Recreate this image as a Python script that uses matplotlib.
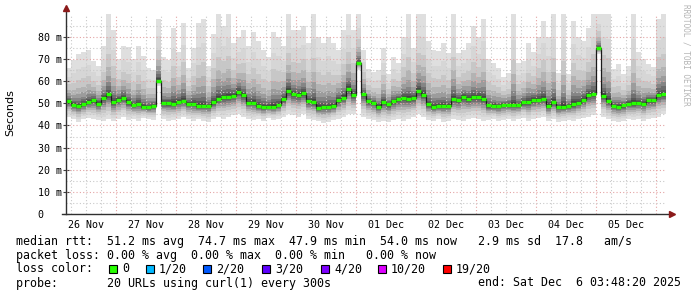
#!/usr/bin/env python3
"""
SmokePing style latency graph (10 days, curl probe)
"""

import numpy as np
import pandas as pd
import matplotlib
matplotlib.use('Agg')
import matplotlib.pyplot as plt
import matplotlib.dates as mdates
from matplotlib.ticker import FuncFormatter
from matplotlib.patches import Rectangle

# --- data, one value per 2 h step (ms) ---
end_time = pd.Timestamp('2025-12-06 03:48:20')
start_time = end_time - pd.Timedelta(days=10)
step_hours = 2

median_ms = [
    51.0, 49.2, 48.9, 49.5, 50.5, 51.3, 49.8, 52.4, 54.0, 50.5,
    51.6, 52.5, 50.5, 49.0, 49.8, 48.4, 48.2, 48.8, 60.2, 50.0,
    50.1, 49.8, 50.6, 51.0, 49.8, 49.8, 48.6, 48.8, 48.8, 50.4,
    52.0, 52.8, 52.8, 53.4, 55.2, 53.5, 50.3, 50.2, 48.8, 48.3,
    48.2, 48.5, 49.0, 51.8, 55.7, 54.0, 53.5, 54.5, 50.8, 50.5,
    48.0, 48.3, 48.3, 48.6, 51.5, 52.5, 56.5, 53.6, 68.0, 54.0,
    51.0, 50.2, 48.5, 50.5, 49.5, 50.8, 51.7, 52.4, 51.8, 52.3,
    55.6, 53.8, 49.5, 48.5, 48.8, 48.8, 48.8, 52.0, 51.4, 53.0,
    52.0, 52.6, 52.8, 52.0, 49.0, 48.8, 48.6, 49.3, 49.4, 49.2,
    49.2, 50.4, 50.6, 51.5, 51.5, 52.0, 48.6, 50.5, 48.2, 48.5,
    48.7, 49.5, 50.2, 51.5, 53.5, 54.0, 74.7, 53.4, 51.0, 48.8,
    48.5, 49.0, 49.8, 50.0, 50.2, 49.8, 51.3, 51.3, 53.5, 54.0,
]

max_ms = [
    66, 69.5, 72, 73, 74, 69, 67, 76, 90, 83,
    70, 76, 75.5, 70, 76, 71.5, 66, 65, 88, 71,
    69.5, 84, 73, 86, 66, 75, 86, 88, 67, 81,
    90, 85, 90, 77, 80, 83, 76, 82, 78, 74,
    71, 82, 80, 76, 90, 83, 83, 85, 77, 90,
    80, 77, 80, 77, 74, 83, 90, 83, 90, 74,
    65.5, 64, 65, 75, 63, 71, 68, 80, 90, 75,
    90, 90, 78, 74, 73.5, 77, 72.5, 90, 72.5, 74,
    77, 85, 80, 88, 70, 68, 66, 62, 63.5, 90,
    68, 69, 77, 73, 80, 87, 80, 90, 63.5, 90,
    63, 87, 80, 78, 84, 90, 90, 90, 90, 65.5,
    67.5, 63, 67, 90, 73, 70, 67.5, 66.5, 88, 90,
]

min_ms = [
    44, 43, 41.5, 43, 43.5, 43, 42.5, 42, 43, 42,
    43, 44, 42.5, 43, 42, 43.5, 43, 42.5, 58, 43,
    42, 42.5, 43, 44, 43, 42, 43, 42, 41.5, 43,
    44, 43, 44, 44.5, 45, 44, 43, 42.5, 43, 42,
    43.5, 42.5, 43, 44, 45, 44.5, 44, 45, 43, 42.5,
    42, 41, 41.5, 42.5, 43, 44, 45, 45, 65, 44,
    43, 42.5, 41.5, 42, 41.5, 42.5, 43, 42, 43, 44,
    45, 44, 42.5, 42, 43, 41.5, 42, 43, 42.5, 42,
    43, 43.5, 43, 42, 42.5, 43, 42, 42.5, 43, 42,
    43, 43.5, 42, 43, 43.5, 44, 42, 43, 41.5, 42,
    42.5, 42, 43, 43.5, 44, 44.5, 72, 44, 43, 42,
    41.5, 42, 43, 42.5, 43, 42, 43, 43.5, 44, 45,
]

y_ticks = [0, 10, 20, 30, 40, 50, 60, 70, 80]

summary_line = ("median rtt:  51.2 ms avg  74.7 ms max  47.9 ms min  "
                "54.0 ms now   2.9 ms sd  17.8   am/s")
loss_line = "packet loss: 0.00 % avg  0.00 % max  0.00 % min   0.00 % now"
loss_labels = ['0', '1/20', '2/20', '3/20', '4/20', '10/20', '19/20']
loss_colors = ['#26ff00', '#00b8ff', '#0059ff', '#5e00ff', '#7e00ff', '#dd00ff', '#ff0000']
probe_line = "probe:       20 URLs using curl(1) every 300s"
end_line = "end: Sat Dec  6 03:48:20 2025"

W, H = 697, 297
MONO = 'DejaVu Sans Mono'

med = np.array(median_ms)
hi = np.array(max_ms, dtype=float)
lo = np.array(min_ms, dtype=float)
edges = pd.date_range(start_time, periods=len(med) + 1, freq=f'{step_hours}h')
xe = mdates.date2num(edges.to_pydatetime())

fig = plt.figure(figsize=(W / 100, H / 100), dpi=100)
fig.patch.set_facecolor('white')
ax = fig.add_axes([66 / W, 1 - 214.3 / H, 600 / W, 200.3 / H])
ax.set_facecolor('white')

# smoke: layered shading, light outside -> dark near median
top_frac = [1.0, 0.72, 0.5, 0.34, 0.23, 0.15, 0.10, 0.06, 0.035, 0.015]
bot_frac = [1.0, 0.82, 0.66, 0.52, 0.40, 0.30, 0.21, 0.14, 0.08, 0.04]
greys = [0.875, 0.84, 0.78, 0.70, 0.61, 0.52, 0.43, 0.35, 0.27, 0.2]
for tf, bf, g in zip(top_frac, bot_frac, greys):
    top = med + (hi - med) * tf
    bot = med - (med - lo) * bf
    ax.stairs(top, xe, baseline=bot, fill=True, color=(g, g, g), lw=0, zorder=1)

# grid (drawn over the smoke, like rrdtool)
for t in pd.date_range(start_time.ceil('6h'), end_time, freq='6h'):
    c = '#e4a4a4' if t.hour == 0 else '#c9c9c9'
    ax.axvline(mdates.date2num(t), color=c, lw=0.8, ls=(0, (1, 2)), zorder=2.5)
for v in np.arange(5, 90, 5):
    c = '#e4a4a4' if v % 10 == 0 else '#c9c9c9'
    ax.axhline(v, color=c, lw=0.8, ls=(0, (1, 2)), zorder=2.5)

# median line
ax.stairs(med, xe, baseline=None, color='#1a1a1a', lw=0.9, zorder=3)
ax.hlines(med, xe[:-1], xe[1:], color='#26ff00', lw=2.4, zorder=4)

ax.set_xlim(mdates.date2num(start_time), mdates.date2num(end_time))
ax.set_ylim(0, 90.2)

for s in ax.spines.values():
    s.set_visible(False)
# axis lines with arrows
ax.plot([-0.007, 1.008], [0, 0], transform=ax.transAxes, color='#303030', lw=1,
        clip_on=False, zorder=5)
ax.plot([0, 0], [0, 1.025], transform=ax.transAxes, color='#303030', lw=1,
        clip_on=False, zorder=5)
ax.plot([0], [1.03], marker='^', ms=4, color='#8b1a1a', transform=ax.transAxes,
        clip_on=False, zorder=6)
ax.plot([1.01], [0], marker='>', ms=4, color='#8b1a1a', transform=ax.transAxes,
        clip_on=False, zorder=6)

# y ticks
ax.set_yticks(y_ticks)
ax.yaxis.set_major_formatter(FuncFormatter(lambda v, p: '0   ' if v == 0 else f'{v:.0f} m'))
ax.tick_params(axis='y', which='major', direction='inout', length=4, width=0.8,
               color='#404040', pad=1, labelsize=7.2)
for lab in ax.get_yticklabels():
    lab.set_fontfamily(MONO)

# x ticks: labels at noon
ax.xaxis.set_major_locator(mdates.HourLocator(byhour=12))
ax.xaxis.set_major_formatter(mdates.DateFormatter('%d %b'))
ax.tick_params(axis='x', which='major', length=0, pad=4, labelsize=7.2)
for lab in ax.get_xticklabels():
    lab.set_fontfamily(MONO)

fig.text(10 / W, 1 - 113 / H, 'Seconds', rotation=90, ha='center', va='center',
         fontsize=8, family='DejaVu Sans')
fig.text(686 / W, 1 - 4 / H, 'RRDTOOL / TOBI OETIKER', rotation=270, ha='center',
         va='top', fontsize=5.6, family=MONO, color='#b4b4b4')

# legend block
fs = 8.37
fig.text(16 / W, 1 - 241 / H, summary_line, fontsize=fs, family=MONO, va='center')
fig.text(16 / W, 1 - 255 / H, loss_line, fontsize=fs, family=MONO, va='center')
fig.text(16 / W, 1 - 269 / H, 'loss color:', fontsize=fs, family=MONO, va='center')
sq_x = [109, 146, 203, 262, 321, 378, 443]
for x, lab, col in zip(sq_x, loss_labels, loss_colors):
    fig.patches.append(Rectangle((x / W, 1 - 273 / H), 8 / W, 8 / H, transform=fig.transFigure,
                                 facecolor=col, edgecolor='black', lw=0.8))
    fig.text((x + 13) / W, 1 - 269 / H, lab, fontsize=fs, family=MONO, va='center')
fig.text(16 / W, 1 - 283 / H, probe_line, fontsize=fs, family=MONO, va='center')
fig.text(681 / W, 1 - 283 / H, end_line, fontsize=fs, family=MONO, va='center', ha='right')

fig.savefig('out.png', dpi=100, facecolor='white')
